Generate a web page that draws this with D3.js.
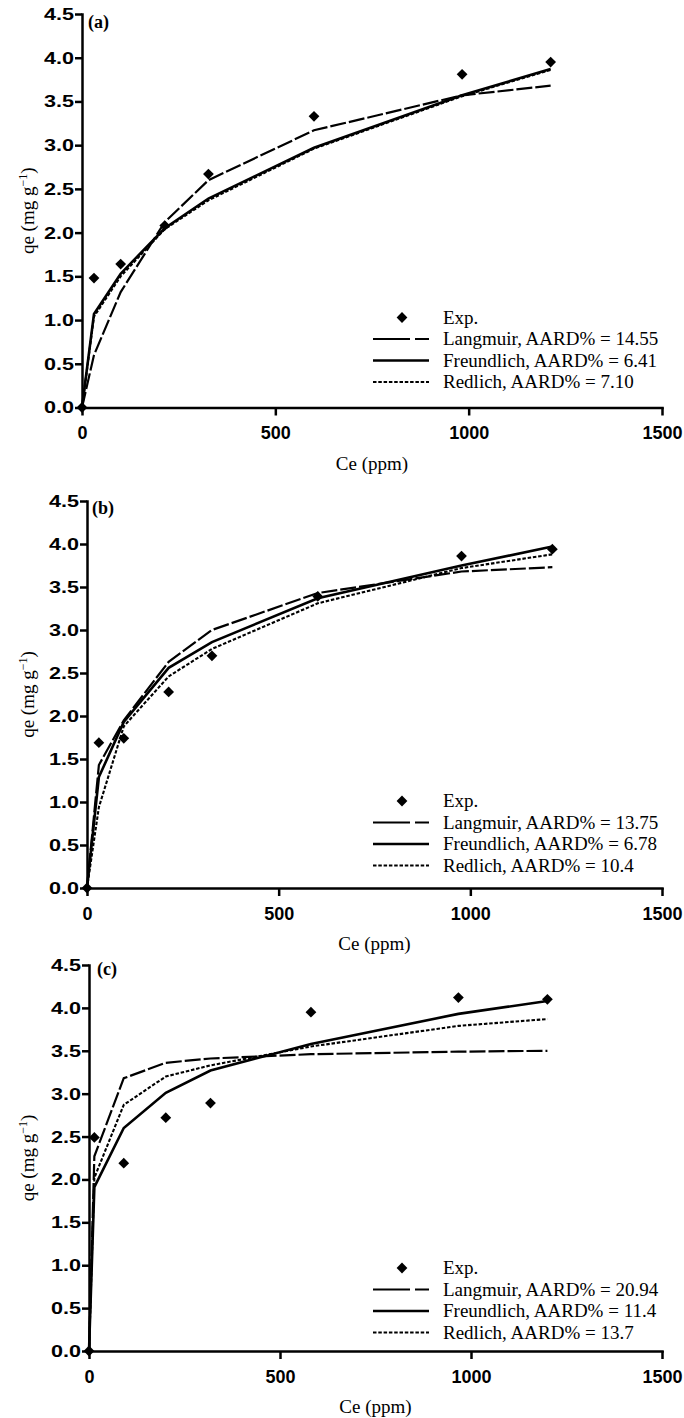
<!DOCTYPE html>
<meta charset="utf-8">
<title>Adsorption isotherms</title>
<style type="text/css">

	body { margin: 0; background: #fff; }
	svg { display: block; font-family: "Liberation Serif", "Times New Roman", serif; }
	.axis path, .axis line { stroke: #000; stroke-width: 2.5; }
	.yaxis text { font-size: 17px; font-weight: bold; fill: #000; }
	.xaxis text { font-size: 18px; font-weight: bold; fill: #000; }
	.legend text { font-size: 19px; fill: #000; }

</style>
<body>
<div id="chart"></div>

<script src="https://d3js.org/d3.v7.min.js"></script>
<script>

// Values: Ce (ppm) and qe (mg/g) for each panel
var ceA   = [0, 31, 100, 214, 327, 600, 983, 1212];
var expA  = [0, 1.48, 1.64, 2.08, 2.67, 3.33, 3.81, 3.95];
var langA = [0, 0.60, 1.32, 2.12, 2.60, 3.17, 3.57, 3.68];
var freuA = [0, 1.07, 1.53, 2.05, 2.39, 2.97, 3.57, 3.87];
var redA  = [0, 1.04, 1.50, 2.04, 2.37, 2.96, 3.56, 3.86];
var legendA = ["Exp.", "Langmuir, AARD% = 14.55", "Freundlich, AARD% = 6.41", "Redlich, AARD% = 7.10"];

var ceB   = [0, 31, 96, 213, 326, 602, 977, 1214];
var expB  = [0, 1.69, 1.74, 2.28, 2.70, 3.39, 3.86, 3.94];
var langB = [0, 1.43, 1.95, 2.63, 3.00, 3.43, 3.68, 3.73];
var freuB = [0, 1.29, 1.93, 2.56, 2.86, 3.37, 3.75, 3.97];
var redB  = [0, 0.94, 1.88, 2.46, 2.78, 3.31, 3.72, 3.88];
var legendB = ["Exp.", "Langmuir, AARD% = 13.75", "Freundlich, AARD% = 6.78", "Redlich, AARD% = 10.4"];

var ceC   = [0, 14, 91, 201, 318, 581, 967, 1200];
var expC  = [0, 2.49, 2.19, 2.72, 2.89, 3.95, 4.12, 4.10];
var langC = [0, 2.27, 3.18, 3.36, 3.41, 3.46, 3.49, 3.50];
var freuC = [0, 1.91, 2.60, 3.01, 3.27, 3.58, 3.93, 4.08];
var redC  = [0, 2.02, 2.87, 3.20, 3.33, 3.55, 3.79, 3.87];
var legendC = ["Exp.", "Langmuir, AARD% = 20.94", "Freundlich, AARD% = 11.4", "Redlich, AARD% = 13.7"];

var yTicks = [0, 0.5, 1.0, 1.5, 2.0, 2.5, 3.0, 3.5, 4.0, 4.5];
var xTicks = [0, 500, 1000, 1500];
var panelNames = ["(a)", "(b)", "(c)"];

// line look for each model (Langmuir, Freundlich, Redlich)
var modelStyle = [
	{dash: "16,3", width: 2.2},
	{dash: null, width: 2.6},
	{dash: "3.5,1.8", width: 2.1}
];

var width = 684, height = 1418;

var svg = d3.select("#chart").append("svg")
		.attr("width", width)
		.attr("height", height);

// where each panel's axes sit on the page
var layout = [
	{x0: 82, x1: 662, y0: 407.5, yTop: 14, tag: [88, 28], leg: -90},
	{x0: 87, x1: 662, y0: 888, yTop: 501, tag: [92, 514], leg: -87},
	{x0: 89, x1: 662, y0: 1351, yTop: 965, tag: [97, 975], leg: -83}
];

var panels = [
	{ce: ceA, exp: expA, models: [langA, freuA, redA], legend: legendA},
	{ce: ceB, exp: expB, models: [langB, freuB, redB], legend: legendB},
	{ce: ceC, exp: expC, models: [langC, freuC, redC], legend: legendC}
];

var diamond = d3.symbol().type(d3.symbolSquare).size(58);

panels.forEach(function(p, i) {
	var L = layout[i];

	var x = d3.scaleLinear().domain([0, 1500]).range([L.x0, L.x1]);
	var y = d3.scaleLinear().domain([0, 4.5]).range([L.y0, L.yTop]);

	var g = svg.append("g");

	// model curves (straight segments between the fitted points)
	p.models.forEach(function(vals, m) {
		var pts = p.ce.map(function(c, k) { return [c, vals[k]]; });
		g.append("path")
			.datum(pts)
			.attr("d", d3.line()
				.x(function(d) { return x(d[0]); })
				.y(function(d) { return y(d[1]); }))
			.attr("fill", "none")
			.attr("stroke", "#000")
			.attr("stroke-width", modelStyle[m].width)
			.attr("stroke-dasharray", modelStyle[m].dash);
	});

	// experimental points
	g.selectAll(".dot")
		.data(p.ce.map(function(c, k) { return [c, p.exp[k]]; }))
		.enter().append("path")
		.attr("d", diamond)
		.attr("transform", function(d) { return "translate(" + x(d[0]) + "," + y(d[1]) + ") rotate(45)"; })
		.attr("fill", "#000");

	// axes
	var yAxis = d3.axisLeft(y).tickValues(yTicks).tickFormat(d3.format(".1f"))
			.tickSize(7).tickSizeOuter(0).tickPadding(1);
	var xAxis = d3.axisBottom(x).tickValues(xTicks).tickFormat(d3.format("d"))
			.tickSize(8).tickSizeOuter(0).tickPadding(11);

	g.append("g")
		.attr("class", "axis yaxis")
		.attr("transform", "translate(" + L.x0 + ",0)")
		.call(yAxis)
		.selectAll("text")
		.attr("textLength", 30)
		.attr("lengthAdjust", "spacingAndGlyphs");

	g.append("g")
		.attr("class", "axis xaxis")
		.attr("transform", "translate(0," + L.y0 + ")")
		.call(xAxis);

	g.selectAll(".axis .domain").attr("stroke-linecap", "square");

	// axis titles
	g.append("text")
		.attr("x", (L.x0 + L.x1) / 2)
		.attr("y", L.y0 + 62)
		.attr("text-anchor", "middle")
		.style("font-size", "19px")
		.text("Ce (ppm)");

	var yl = g.append("text")
		.attr("transform", "translate(34," + (L.y0 + L.yTop) / 2 + ") rotate(-90)")
		.attr("text-anchor", "middle")
		.style("font-size", "19px");
	yl.append("tspan").text("qe (mg g");
	yl.append("tspan").attr("dy", -7).style("font-size", "12px").text("\u22121");
	yl.append("tspan").attr("dy", 7).text(")");

	// panel tag
	g.append("text")
		.attr("x", L.tag[0])
		.attr("y", L.tag[1])
		.style("font-size", "18px")
		.style("font-weight", "bold")
		.text(panelNames[i]);

	// legend
	var leg = g.append("g").attr("class", "legend");
	p.legend.forEach(function(label, r) {
		var ly = L.y0 + L.leg + r * 21.5;
		if (r === 0) {
			leg.append("path")
				.attr("d", diamond)
				.attr("transform", "translate(402," + ly + ") rotate(45)")
				.attr("fill", "#000");
		} else {
			var st = modelStyle[r - 1];
			leg.append("line")
				.attr("x1", 373).attr("x2", 429)
				.attr("y1", ly).attr("y2", ly)
				.attr("stroke", "#000")
				.attr("stroke-width", st.width)
				.attr("stroke-dasharray", r === 1 ? "37,5" : st.dash);
		}
		leg.append("text")
			.attr("x", 443)
			.attr("y", ly)
			.attr("dy", "0.33em")
			.text(label);
	});
});

</script>
</body>
